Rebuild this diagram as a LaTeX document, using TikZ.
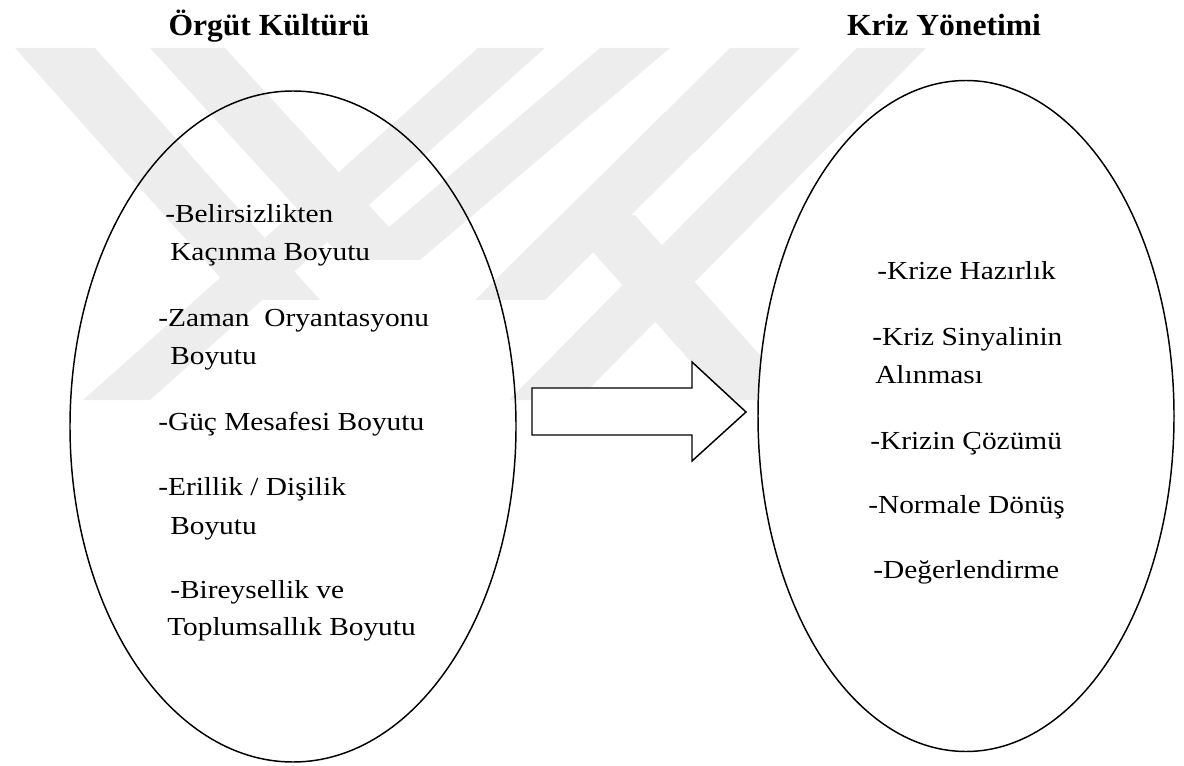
\documentclass[tikz,border=0pt]{standalone}
\usepackage{fontspec}
\setmainfont{Liberation Serif}
\newfontfamily\itemfont{Liberation Serif}[FakeStretch=1.13]
\newfontfamily\headfont{Liberation Serif}[FakeStretch=1.03]
\usepackage{tikz}
\usetikzlibrary{shapes.geometric}
\definecolor{wmgray}{RGB}{237,237,237}
\tikzset{>=latex}

\begin{document}
\begin{tikzpicture}[x=0.75pt,y=-0.75pt,
  head/.style={font=\headfont\bfseries\fontsize{23}{27}\selectfont, inner sep=0pt, anchor=base},
  item/.style={font=\itemfont\fontsize{19.5}{28}\selectfont, inner sep=0pt, anchor=base west},
  oval/.style={ellipse, draw, line width=1.1pt, inner sep=0pt, minimum height=503.25pt},
  band/.style={fill=wmgray, draw=none}]
\useasboundingbox (0,0) rectangle (1184,766);

  % faint watermark bands
  \fill[band] (15,48) -- (95,48) -- (320,300) -- (240,300) -- cycle;
  \fill[band] (150,48) -- (225,48) -- (410,250) -- (335,250) -- cycle;
  \fill[band] (478,48) -- (545,48) -- (150,400) -- (83,400) -- cycle;
  \fill[band] (600,48) -- (670,48) -- (420,260) -- (350,260) -- cycle;
  \fill[band] (730,48) -- (800,48) -- (545,300) -- (475,300) -- cycle;
  \fill[band] (857,48) -- (926,48) -- (578,400) -- (509,400) -- cycle;
  \fill[band] (560,215) -- (635,215) -- (800,400) -- (725,400) -- cycle;

  % the two ellipses and the block arrow
  \node[oval, minimum width=334.5pt] (culture) at (293,426.5) {};
  \draw[line width=1.1pt, fill=white] (532,388) -- (692,388) -- (692,362)
    -- (746,412) -- (692,461) -- (692,435) -- (532,435) -- cycle;
  \node[oval, minimum width=312pt, fill=white] (crisis) at (966,416) {};

  % titles
  \node[head] (cultureTitle) at (269,36) {Örgüt Kültürü};
  \node[head] (crisisTitle) at (944,36) {Kriz Yönetimi};

  % dimensions of culture
  \foreach \x/\y/\t [count=\i] in {165/223/{-Belirsizlikten}, 170/261/{Kaçınma Boyutu},
      158/327/{-Zaman\ \ Oryantasyonu}, 170/364/{Boyutu},
      158/430/{-Güç Mesafesi Boyutu},
      158/495/{-Erillik / Dişilik}, 170/534/{Boyutu},
      170/598/{-Bireysellik ve}, 167/635/{Toplumsallık Boyutu}}
    \node[item] (culture\i) at (\x,\y) {\t};

  % stages of crisis management
  \foreach \x/\y/\t [count=\i] in {877/280/{-Krize Hazırlık},
      872/345/{-Kriz Sinyalinin}, 875/383/{Alınması},
      870/449/{-Krizin Çözümü}, 868/513/{-Normale Dönüş},
      873/578/{-Değerlendirme}}
    \node[item] (crisis\i) at (\x,\y) {\t};
\end{tikzpicture}
\end{document}
